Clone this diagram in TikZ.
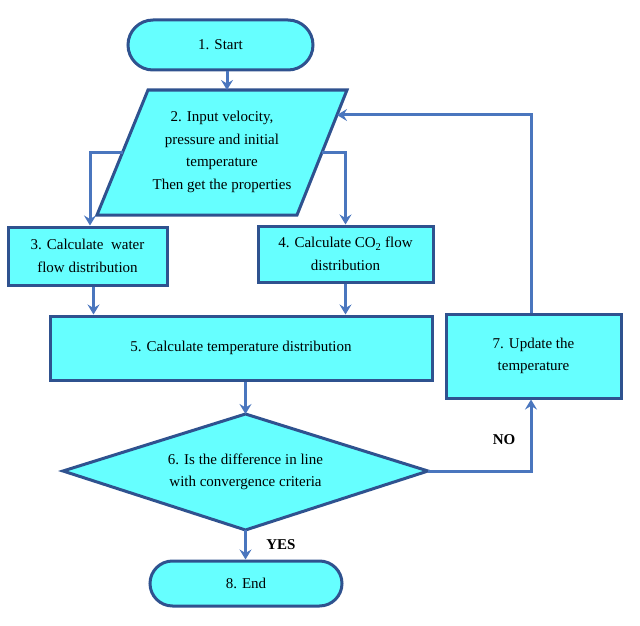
\documentclass[tikz,border=0pt]{standalone}
\usepackage{fontspec}
\setmainfont{Liberation Serif}
\usetikzlibrary{arrows.meta,calc}
\definecolor{fillc}{RGB}{102,255,255}
\definecolor{edgec}{RGB}{47,82,143}
\definecolor{arrc}{RGB}{74,118,190}
\begin{document}
\begin{tikzpicture}[x=1pt,y=-1pt,
  shp/.style={draw=edgec,fill=fillc,line width=3pt},
  txt/.style={align=center,font=\fontsize{15}{22.5}\selectfont,text=black},
  procbox/.style={shp,txt,rectangle,inner sep=0pt},
  termbox/.style={shp,txt,rectangle,inner sep=0pt},
  conn/.style={draw=arrc,line width=3pt,-{Stealth[length=10pt,width=12pt,inset=3.5pt]}},
  lbl/.style={font=\fontsize{15}{18}\selectfont\bfseries,text=black},
]
\useasboundingbox (0,0) rectangle (640,626);

% 1. Start
\node[termbox,rounded corners=25pt,minimum width=185pt,minimum height=50pt] (n1) at (220.5,45) {1. Start};

% 2. Parallelogram
\coordinate (pTL) at (148,90);
\coordinate (pTR) at (347,90);
\coordinate (pBR) at (297,215);
\coordinate (pBL) at (97,215);
\draw[shp,line join=miter] (pTL) -- (pTR) -- (pBR) -- (pBL) -- cycle;
\node[txt] (n2) at (222,152) {2. Input velocity,\\pressure and initial\\temperature\\Then get the properties};
\coordinate (pL) at ($(pTL)!0.5!(pBL)$);
\coordinate (pR) at ($(pTR)!0.5!(pBR)$);
\coordinate (pT) at ($(pTR)!0.2!(pBR)$);

% 3, 4
\node[procbox,minimum width=159pt,minimum height=58pt] (n3) at (87.5,256) {3. Calculate\ \ water\\flow distribution};
\node[procbox,minimum width=175pt,minimum height=56pt] (n4) at (345.5,254) {4. Calculate CO\textsubscript{2} flow\\distribution};

% 5
\node[procbox,minimum width=382pt,minimum height=64pt] (n5) at (241,348) {5. Calculate temperature distribution};

% 6. Diamond
\coordinate (dN) at (245.5,414);
\coordinate (dE) at (428,471);
\coordinate (dS) at (245.5,530);
\coordinate (dW) at (63,471);
\draw[shp,line join=miter] (dN) -- (dE) -- (dS) -- (dW) -- cycle;
\node[txt] (n6) at (245.5,472) {6. Is the difference in line\\with convergence criteria};

% 7
\node[procbox,minimum width=175pt,minimum height=84pt] (n7) at (533.5,356) {7. Update the\\temperature};

% 8
\node[termbox,rounded corners=22.5pt,minimum width=192pt,minimum height=45pt] (n8) at (246,583.5) {8. End};

% labels
\node[lbl] (no) at (504,440) {NO};
\node[lbl] (yes) at (281,545) {YES};

% connectors
\draw[conn] ([xshift=6.5pt]n1.south) -- ([xshift=6.5pt]n1.south |- pTL);
\draw[conn] (pL) -| ([xshift=2.5pt]n3.north);
\draw[conn] (pR) -| (n4.north);
\draw[conn] ([xshift=6pt]n3.south) -- ([xshift=6pt]n3.south |- n5.north);
\draw[conn] (n4.south) -- (n4.south |- n5.north);
\draw[conn] (dN |- n5.south) -- (dN);
\draw[conn] (dE) -| ([xshift=-2.5pt]n7.south);
\draw[conn] ([xshift=-2.5pt]n7.north) |- (pT);
\draw[conn] (dS) -- (dS |- n8.north);
\end{tikzpicture}
\end{document}
